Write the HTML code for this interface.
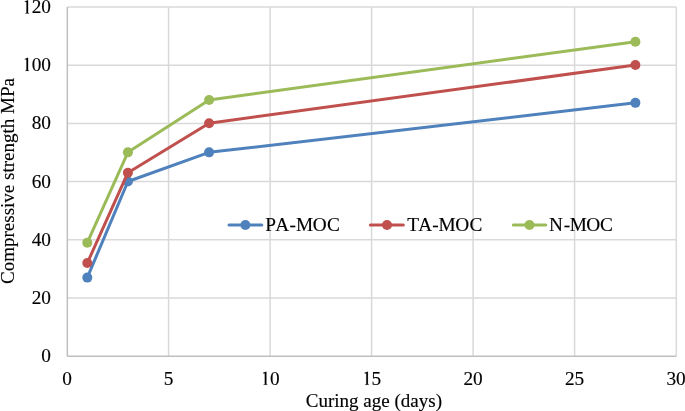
<!DOCTYPE html>
<html><head><meta charset="utf-8"><style>
html,body{margin:0;padding:0;background:#fff;width:685px;height:411px;overflow:hidden}
svg{display:block;will-change:transform}
text{font-family:"Liberation Serif",serif;font-size:19.3px;fill:#000;stroke:#000;stroke-width:0.15px}
text.t{font-size:19px}
</style></head><body>
<svg width="685" height="411" viewBox="0 0 685 411">
<defs><path id="one" d="M640 1390L640 80Q645 30 740 22L740 0L340 0L340 22Q460 30 465 80L465 1190Q450 1205 420 1200L285 1235L285 1270L600 1390Z" fill="#000" stroke="#000" stroke-width="16"/></defs>
<line x1="67.33" y1="297.99" x2="676.35" y2="297.99" stroke="#d9d9d9" stroke-width="1.5"/>
<line x1="67.33" y1="239.79" x2="676.35" y2="239.79" stroke="#d9d9d9" stroke-width="1.5"/>
<line x1="67.33" y1="181.59" x2="676.35" y2="181.59" stroke="#d9d9d9" stroke-width="1.5"/>
<line x1="67.33" y1="123.39" x2="676.35" y2="123.39" stroke="#d9d9d9" stroke-width="1.5"/>
<line x1="67.33" y1="65.19" x2="676.35" y2="65.19" stroke="#d9d9d9" stroke-width="1.5"/>
<line x1="67.33" y1="6.99" x2="676.35" y2="6.99" stroke="#d9d9d9" stroke-width="1.5"/>
<line x1="168.60" y1="356.19" x2="168.60" y2="6.99" stroke="#d9d9d9" stroke-width="1.5"/>
<line x1="270.10" y1="356.19" x2="270.10" y2="6.99" stroke="#d9d9d9" stroke-width="1.5"/>
<line x1="371.60" y1="356.19" x2="371.60" y2="6.99" stroke="#d9d9d9" stroke-width="1.5"/>
<line x1="473.10" y1="356.19" x2="473.10" y2="6.99" stroke="#d9d9d9" stroke-width="1.5"/>
<line x1="574.60" y1="356.19" x2="574.60" y2="6.99" stroke="#d9d9d9" stroke-width="1.5"/>
<line x1="676.30" y1="356.19" x2="676.30" y2="6.99" stroke="#d9d9d9" stroke-width="1.5"/>
<line x1="67.33" y1="356.19" x2="676.35" y2="356.19" stroke="#bfbfbf" stroke-width="1.5"/>
<line x1="67.33" y1="356.19" x2="67.33" y2="6.99" stroke="#bfbfbf" stroke-width="1.5"/>
<text x="41.35" y="362.39">0</text>
<text x="31.70" y="304.29">20</text>
<text x="31.70" y="245.89">40</text>
<text x="31.70" y="187.54">60</text>
<text x="31.70" y="129.49">80</text>
<use href="#one" transform="translate(22.05,70.89) scale(0.009424,-0.009424)"/>
<text x="31.70" y="70.89">00</text>
<use href="#one" transform="translate(22.05,13.39) scale(0.009424,-0.009424)"/>
<text x="31.70" y="13.39">20</text>
<text x="62.20" y="384.80">0</text>
<text x="163.71" y="384.80">5</text>
<use href="#one" transform="translate(260.39,384.80) scale(0.009424,-0.009424)"/>
<text x="270.04" y="384.80">0</text>
<use href="#one" transform="translate(361.89,384.80) scale(0.009424,-0.009424)"/>
<text x="371.54" y="384.80">5</text>
<text x="463.39" y="384.80">20</text>
<text x="564.90" y="384.80">25</text>
<text x="666.40" y="384.80">30</text>
<text x="373.9" y="407.3" text-anchor="middle" class="t">Curing age (days)</text>
<text transform="translate(13.5,181) rotate(-90)" text-anchor="middle" class="t">Compressive strength MPa</text>
<polyline points="87.30,277.60 127.90,181.48 209.10,152.35 635.40,102.84" fill="none" stroke="#4f81bd" stroke-width="3.0" stroke-linejoin="round" stroke-linecap="round"/>
<circle cx="87.30" cy="277.60" r="5.0" fill="#4f81bd"/>
<circle cx="127.90" cy="181.48" r="5.0" fill="#4f81bd"/>
<circle cx="209.10" cy="152.35" r="5.0" fill="#4f81bd"/>
<circle cx="635.40" cy="102.84" r="5.0" fill="#4f81bd"/>
<polyline points="87.30,263.03 127.90,172.74 209.10,123.22 635.40,64.97" fill="none" stroke="#c0504d" stroke-width="3.0" stroke-linejoin="round" stroke-linecap="round"/>
<circle cx="87.30" cy="263.03" r="5.0" fill="#c0504d"/>
<circle cx="127.90" cy="172.74" r="5.0" fill="#c0504d"/>
<circle cx="209.10" cy="123.22" r="5.0" fill="#c0504d"/>
<circle cx="635.40" cy="64.97" r="5.0" fill="#c0504d"/>
<polyline points="87.30,242.64 127.90,152.35 209.10,99.92 635.40,41.67" fill="none" stroke="#9bbb59" stroke-width="3.0" stroke-linejoin="round" stroke-linecap="round"/>
<circle cx="87.30" cy="242.64" r="5.0" fill="#9bbb59"/>
<circle cx="127.90" cy="152.35" r="5.0" fill="#9bbb59"/>
<circle cx="209.10" cy="99.92" r="5.0" fill="#9bbb59"/>
<circle cx="635.40" cy="41.67" r="5.0" fill="#9bbb59"/>
<line x1="229.0" y1="225.05" x2="261.8" y2="225.05" stroke="#4f81bd" stroke-width="3.0" stroke-linecap="round"/>
<circle cx="245.4" cy="225.05" r="5.0" fill="#4f81bd"/>
<text x="265.3" y="230.9" dx="0 1.1 0.3 0 -0.3 0.2">PA-MOC</text>
<line x1="370.4" y1="225.05" x2="403.3" y2="225.05" stroke="#c0504d" stroke-width="3.0" stroke-linecap="round"/>
<circle cx="387.0" cy="225.05" r="5.0" fill="#c0504d"/>
<text x="407.2" y="230.9" dx="0 0.7 0.2 -0.2 -0.3 0.2">TA-MOC</text>
<line x1="513.3" y1="225.05" x2="545.8" y2="225.05" stroke="#9bbb59" stroke-width="3.0" stroke-linecap="round"/>
<circle cx="529.5" cy="225.05" r="5.0" fill="#9bbb59"/>
<text x="548.9" y="230.9" dx="0 0.9 -0.4 -0.55 -0.25">N-MOC</text>
</svg>
</body></html>
